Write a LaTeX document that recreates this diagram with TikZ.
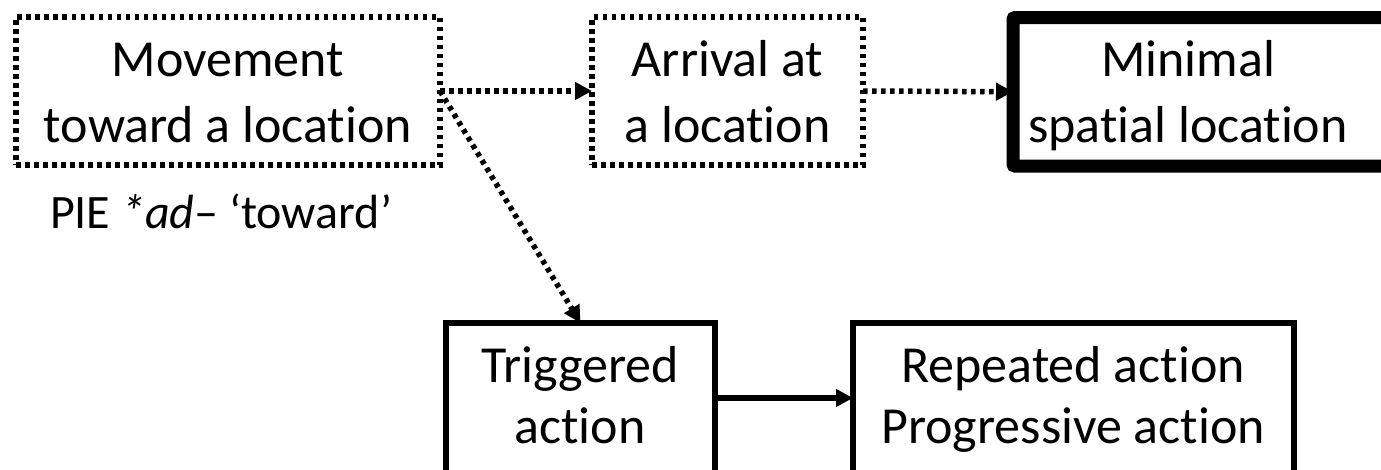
\documentclass[tikz,border=0pt]{standalone}
\usepackage{fontspec}
\setmainfont[Ligatures=NoCommon]{Carlito}
\usetikzlibrary{arrows.meta}
\begin{document}
\begin{tikzpicture}[x=1pt,y=-1pt,
  dotbox/.style={draw, line width=5.5pt, dash pattern=on 4.5pt off 4.5pt, rectangle, outer sep=0pt, inner sep=0pt},
  solidbox/.style={draw, line width=6pt, rectangle, outer sep=0pt, inner sep=0pt},
  thickbox/.style={draw, line width=13pt, rectangle, outer sep=0pt, inner sep=0pt, rounded corners=2pt},
  txt/.style={inner sep=0pt, anchor=base, font=\fontsize{52}{62}\selectfont},
  smalltxt/.style={inner sep=0pt, anchor=base, font=\fontsize{48}{58}\selectfont},
  dotarrow/.style={line width=5.5pt, dash pattern=on 4.5pt off 4.5pt, -{Triangle[length=17pt,width=17pt]}},
  solidarrow/.style={line width=6pt, -{Triangle[length=17pt,width=17pt]}}
]
\useasboundingbox (0,0) rectangle (1381,469);
\clip (0,0) rectangle (1381,469);
% boxes
\node[dotbox, minimum width=424pt, minimum height=148pt] (b1) at (228,91) {};
\node[dotbox, minimum width=271pt, minimum height=148pt] (b2) at (727.5,91) {};
\node[thickbox, minimum width=390pt, minimum height=148.5pt] (b3) at (1208,91.75) {};
\node[solidbox, minimum width=269pt, minimum height=150pt] (b4) at (580.5,398) {};
\node[solidbox, minimum width=441pt, minimum height=150pt] (b5) at (1073.5,398) {};
% texts
\node[txt] (t1a) at (228,76) {Movement};
\node[txt] (t1b) at (228,142) {toward a location};
\node[smalltxt] (t1c) at (221,228) {PIE \textit{*ad}– ‘toward’};
\node[txt] (t2a) at (727.5,76) {Arrival at};
\node[txt] (t2b) at (727.5,142) {a location};
\node[txt] (t3a) at (1188,76) {Minimal};
\node[txt] (t3b) at (1188,142) {spatial location};
\node[txt] (t4a) at (580,382) {Triggered};
\node[txt] (t4b) at (580,443) {action};
\node[txt] (t5a) at (1073,382) {Repeated action};
\node[txt] (t5b) at (1073,443) {Progressive action};
% connectors
\draw[dotarrow] (b1.east) -- (b2.west);
\draw[dotarrow] (b2.east) -- (b3.west);
\draw[dotarrow] (b1.east) -- (b4.north);
\draw[solidarrow] (b4.east) -- (b5.west);
\end{tikzpicture}
\end{document}
